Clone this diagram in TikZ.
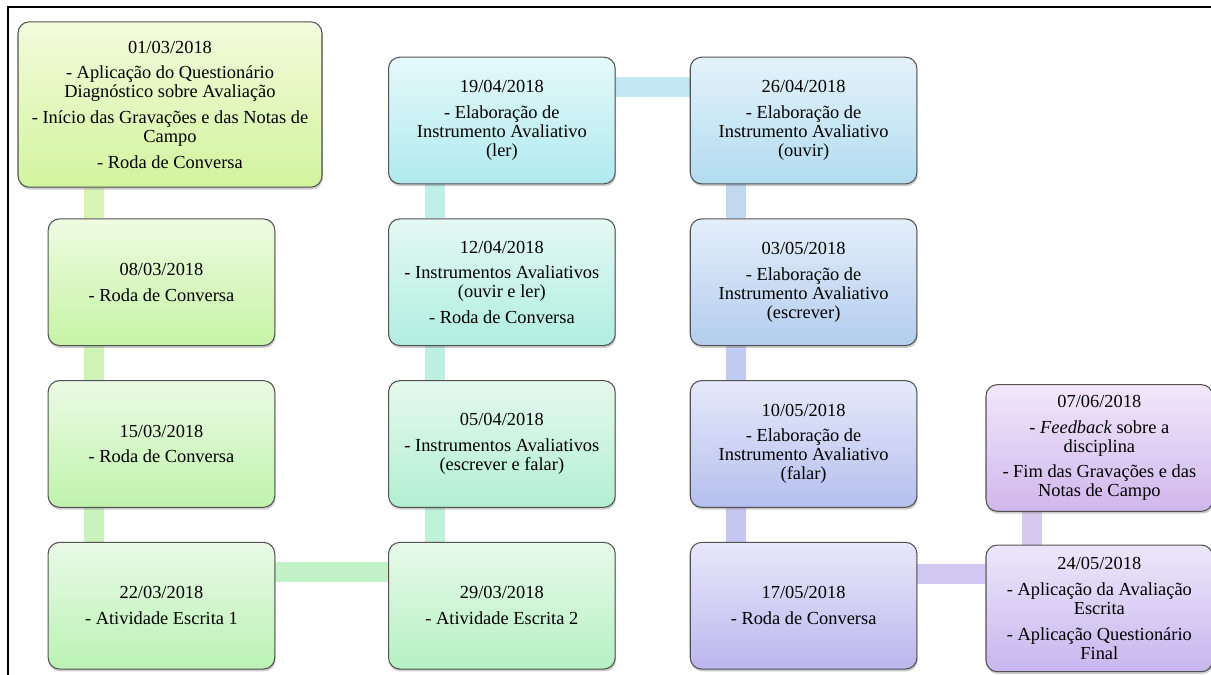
\documentclass[tikz,border=0pt]{standalone}
\usepackage{fontspec}
\setmainfont{Liberation Serif}
\usetikzlibrary{positioning,shadows,backgrounds}

\definecolor{t1}{HTML}{F3FBDC}\definecolor{b1}{HTML}{D3F49E}
\definecolor{t2}{HTML}{EEFBE0}\definecolor{b2}{HTML}{C6F4A6}
\definecolor{t3}{HTML}{EBFBE4}\definecolor{b3}{HTML}{C0F3AC}
\definecolor{t4}{HTML}{E9FAE7}\definecolor{b4}{HTML}{BBF2B4}
\definecolor{t5}{HTML}{E7FAEB}\definecolor{b5}{HTML}{B6F1C2}
\definecolor{t6}{HTML}{E5F9EF}\definecolor{b6}{HTML}{B2EFD2}
\definecolor{t7}{HTML}{E4F9F3}\definecolor{b7}{HTML}{B0EEE0}
\definecolor{t8}{HTML}{E5F9FA}\definecolor{b8}{HTML}{B0EAEE}
\definecolor{t9}{HTML}{E4F2FA}\definecolor{b9}{HTML}{B2DCF0}
\definecolor{t10}{HTML}{E4EEFA}\definecolor{b10}{HTML}{B3CDEE}
\definecolor{t11}{HTML}{E6E9FA}\definecolor{b11}{HTML}{B5BFEE}
\definecolor{t12}{HTML}{E9E7FA}\definecolor{b12}{HTML}{BDB6EE}
\definecolor{t13}{HTML}{EDE7FA}\definecolor{b13}{HTML}{C7B6EE}
\definecolor{t14}{HTML}{F1E7FA}\definecolor{b14}{HTML}{D0B7EC}

\definecolor{l1}{HTML}{D8F4B4}\definecolor{l2}{HTML}{CFF3B6}
\definecolor{l3}{HTML}{C9F2BC}\definecolor{l4}{HTML}{C3F2C9}
\definecolor{l5}{HTML}{BFF2D6}\definecolor{l6}{HTML}{BEF0E1}
\definecolor{l7}{HTML}{C0EFEA}\definecolor{l8}{HTML}{C3E8F3}
\definecolor{l9}{HTML}{C0D8F0}\definecolor{l10}{HTML}{C2CCF2}
\definecolor{l11}{HTML}{C7C6F2}\definecolor{l12}{HTML}{D0C8F2}
\definecolor{l13}{HTML}{D7C9F0}

\begin{document}
\begin{tikzpicture}[x=0.75pt,y=-0.75pt,
                    date node/.style={rectangle,rounded corners=8.5pt,draw=black!68,line width=0.8pt,
                      minimum width=170pt,minimum height=95pt,inner sep=0pt,align=center,
                      font=\fontsize{13.8}{14.25}\selectfont,
                      drop shadow={opacity=0.4,shadow xshift=0.6pt,shadow yshift=-1.8pt}},
                    tint/.style 2 args={top color=#1,bottom color=#2},
                    link/.style={line width=15pt}]

  \useasboundingbox (0,0) rectangle (1211,675);
  \draw[line width=1.5pt] (8,675) -- (8,7) -- (1211,7);

  \node[date node,minimum width=228pt,minimum height=124pt,tint={t1}{b1}] (1) at (170,104.5)
    {01/03/2018\\[5pt]- Aplicação do Questionário\\Diagnóstico sobre Avaliação\\[5pt]- Início das Gravações e das Notas de\\Campo\\[5pt]- Roda de Conversa};
  \node[date node,tint={t2}{b2}] (2) [below=23pt of 1,xshift=-6.4pt] {08/03/2018\\[5pt]- Roda de Conversa};
  \node[date node,tint={t3}{b3}] (3) [below=25.5pt of 2] {15/03/2018\\[5pt]- Roda de Conversa};
  \node[date node,tint={t4}{b4}] (4) [below=25.5pt of 3] {22/03/2018\\[5pt]- Atividade Escrita 1};
  \node[date node,tint={t5}{b5}] (5) [right=84.5pt of 4] {29/03/2018\\[5pt]- Atividade Escrita 2};
  \node[date node,tint={t6}{b6}] (6) [above=25.5pt of 5] {05/04/2018\\[5pt]- Instrumentos Avaliativos\\(escrever e falar)};
  \node[date node,tint={t7}{b7}] (7) [above=25.5pt of 6] {12/04/2018\\[5pt]- Instrumentos Avaliativos\\(ouvir e ler)\\[5pt]- Roda de Conversa};
  \node[date node,tint={t8}{b8}] (8) [above=25.5pt of 7] {19/04/2018\\[5pt]- Elaboração de\\Instrumento Avaliativo\\(ler)};
  \node[date node,tint={t9}{b9}] (9) [right=55.5pt of 8] {26/04/2018\\[5pt]- Elaboração de\\Instrumento Avaliativo\\(ouvir)};
  \node[date node,tint={t10}{b10}] (10) [below=25.5pt of 9] {03/05/2018\\[5pt]- Elaboração de\\Instrumento Avaliativo\\(escrever)};
  \node[date node,tint={t11}{b11}] (11) [below=25.5pt of 10] {10/05/2018\\[5pt]- Elaboração de\\Instrumento Avaliativo\\(falar)};
  \node[date node,tint={t12}{b12}] (12) [below=25.5pt of 11] {17/05/2018\\[5pt]- Roda de Conversa};
  \node[date node,tint={t13}{b13}] (13) [right=51pt of 12,yshift=-2pt]
    {24/05/2018\\[5pt]- Aplicação da Avaliação\\Escrita\\[5pt]- Aplicação Questionário\\Final};
  \node[date node,tint={t14}{b14}] (14) [above=24.5pt of 13]
    {07/06/2018\\[5pt]- \textit{Feedback} sobre a\\disciplina\\[5pt]- Fim das Gravações e das\\Notas de Campo};

  \begin{scope}[on background layer]
    \coordinate (top1) at ([xshift=35pt]2.north west);
    \draw[link,l1] (top1) -- (top1 |- 1.south);
    \draw[link,l2] ([xshift=35pt]2.south west) -- ([xshift=35pt]3.north west);
    \draw[link,l3] ([xshift=35pt]3.south west) -- ([xshift=35pt]4.north west);
    \draw[link,l4] ([yshift=-22.5pt]4.north east) -- ([yshift=-22.5pt]5.north west);
    \draw[link,l5] ([xshift=35pt]5.north west) -- ([xshift=35pt]6.south west);
    \draw[link,l6] ([xshift=35pt]6.north west) -- ([xshift=35pt]7.south west);
    \draw[link,l7] ([xshift=35pt]7.north west) -- ([xshift=35pt]8.south west);
    \draw[link,l8] ([yshift=-22.5pt]8.north east) -- ([yshift=-22.5pt]9.north west);
    \draw[link,l9] ([xshift=35pt]9.south west) -- ([xshift=35pt]10.north west);
    \draw[link,l10] ([xshift=35pt]10.south west) -- ([xshift=35pt]11.north west);
    \draw[link,l11] ([xshift=35pt]11.south west) -- ([xshift=35pt]12.north west);
    \coordinate (mid12) at ([yshift=-24pt]12.north east);
    \draw[link,l12] (mid12) -- (mid12 -| 13.west);
    \draw[link,l13] ([xshift=35pt]13.north west) -- ([xshift=35pt]14.south west);
  \end{scope}
\end{tikzpicture}
\end{document}
